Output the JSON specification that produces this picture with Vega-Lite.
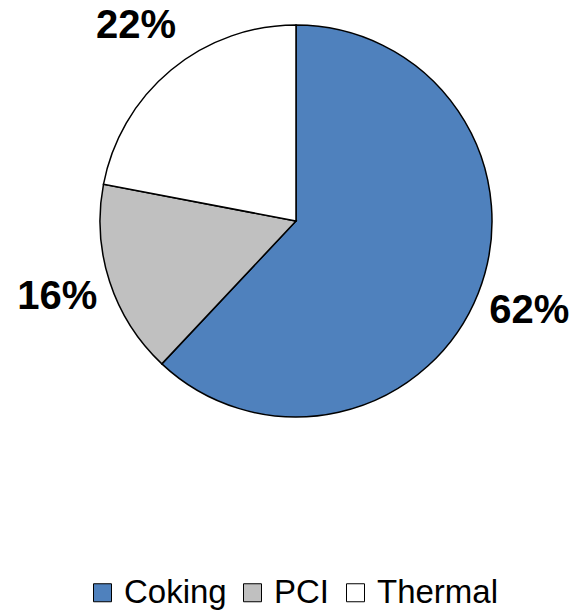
{
  "$schema": "https://vega.github.io/schema/vega-lite/v6.json",
  "width": 562,
  "height": 442,
  "padding": {"left": 15, "top": 0, "right": 0, "bottom": 0},
  "background": "white",
  "config": {"view": {"stroke": null}},
  "data": {"values": [
    {"type": "Coking", "share": 62, "label": "62%"},
    {"type": "PCI", "share": 16, "label": "16%"},
    {"type": "Thermal", "share": 22, "label": "22%"}
  ]},
  "encoding": {
    "theta": {"field": "share", "type": "quantitative", "stack": true},
    "order": {"field": "type", "type": "nominal"}
  },
  "layer": [
    {
      "mark": {"type": "arc", "outerRadius": 196, "stroke": "black", "strokeWidth": 1.5},
      "encoding": {
        "color": {
          "field": "type", "type": "nominal",
          "scale": {"domain": ["Coking", "PCI", "Thermal"], "range": ["#4F81BD", "#C0C0C0", "#FFFFFF"]},
          "legend": {
            "orient": "none", "legendX": 71, "legendY": 576,
            "direction": "horizontal", "title": null,
            "symbolType": "square", "symbolSize": 324,
            "symbolStrokeColor": "black", "symbolStrokeWidth": 1,
            "labelFont": "Liberation Sans", "labelFontSize": 33, "labelColor": "black",
            "labelOffset": 5, "columnPadding": 9
          }
        }
      }
    },
    {
      "mark": {"type": "text", "radius": 251, "font": "Liberation Sans", "fontSize": 40, "fontWeight": "bold", "color": "black", "baseline": "middle", "align": "center", "dy": -2},
      "encoding": {"text": {"field": "label"}}
    }
  ]
}
